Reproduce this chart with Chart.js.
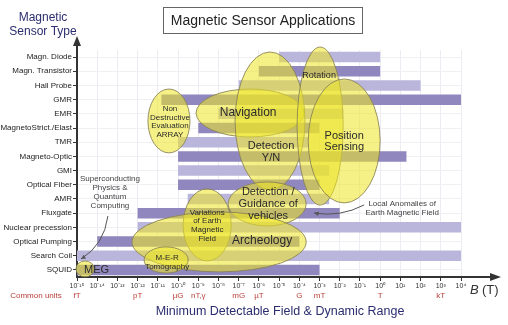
<!DOCTYPE html>
<html>
<head>
<meta charset="utf-8">
<script src="https://cdn.jsdelivr.net/npm/chart.js@4.4.0/dist/chart.umd.min.js"></script>
<style>
  html, body { margin: 0; padding: 0; background: #fff; }
  #wrap { width: 508px; height: 325px; position: relative; }
</style>
</head>
<body>
<div id="wrap"><canvas id="chart" width="508" height="325"></canvas></div>
<script>
// sensor types, top to bottom
var sensors = ['Magn. Diode', 'Magn. Transistor', 'Hall Probe', 'GMR', 'EMR', 'MagnetoStrict./Elast', 'TMR',
    'Magneto-Optic', 'GMI', 'Optical Fiber', 'AMR', 'Fluxgate', 'Nuclear precession', 'Optical Pumping',
    'Search Coil', 'SQUID'];
// detectable field range (tesla)
var fieldMin = [1e-5, 1e-6, 1e-7, 1.5e-11, 1e-8, 1e-9, 1e-10, 1e-10, 1e-10, 1e-10, 3e-10, 1e-12, 1e-12, 1e-14, 1e-15, 1e-15];
var fieldMax = [1, 1, 100, 1e4, 1.5e-2, 1e-3, 3e-4, 20, 3e-3, 1e-3, 3e-3, 1e-2, 1e4, 1e-4, 1e4, 1e-3];
// decade ticks on the B axis (exponents)
var decadeTicks = [-15, -14, -13, -12, -11, -10, -9, -8, -7, -6, -5, -4, -3, -2, -1, 0, 1, 2, 3, 4];
// common units under the axis
var unitNames = ['fT', 'pT', 'µG', 'nT,γ', 'mG', 'µT', 'G', 'mT', 'T', 'kT'];
var unitDecades = [-15, -12, -10, -9, -7, -6, -4, -3, 0, 3];

// application areas: centre (log10 B, row), radii (decades, rows)
var appText = [['Non', 'Destructive', 'Evaluation', 'ARRAY'], ['Navigation'], ['Detection', 'Y/N'], ['Rotation'],
    ['Position', 'Sensing'], ['Detection /', 'Guidance of', 'vehicles'], ['Variations', 'of Earth', 'Magnetic', 'Field'],
    ['Archeology'], ['M-E-R', 'Tomography'], ['MEG']];
var appX = [-10.45, -6.44, -5.45, -2.97, -1.78, -5.59, -8.56, -7.97, -10.59, -14.6];
var appRow = [4.5, 3.94, 4.5, 4.86, 5.91, 10.35, 11.83, 13.03, 14.3, 14.93];
var appRx = [1.04, 2.67, 1.73, 1.14, 1.78, 1.93, 1.19, 4.31, 1.09, 0.45];
var appRy = [2.25, 1.69, 4.86, 5.57, 4.37, 1.55, 2.54, 2.11, 0.92, 0.56];
var appTextX = [-10.4, -6.53, -5.4, -3.02, -1.78, -5.54, -8.56, -5.84, -10.54, -14.03];
var appTextRow = [4.57, 3.94, 6.69, 1.33, 5.95, 10.35, 11.87, 12.96, 14.47, 15.0];
var appFontSize = [8, 12, 11, 9, 11, 11, 8, 12, 8, 11];

// side notes with arrows
var noteText = [['Superconducting', 'Physics &', 'Quantum', 'Computing'], ['Local Anomalies of', 'Earth Magnetic Field']];
var noteX = [-13.37, 1.09];
var noteRow = [9.54, 10.67];
var arrowFrom = [[-13.47, 11.2], [-0.79, 10.42]];
var arrowCtrl = [[-13.66, 13.24], [-1.98, 11.3]];
var arrowTo = [[-14.8, 14.23], [-3.27, 10.99]];

var FONT = "'Liberation Sans', Arial, sans-serif";
var NAVY = '#2b2d6e';
var UNIT_RED = '#b8413a';

function sup(n) {
    var map = { '-': '\u207B', '0': '\u2070', '1': '\u00B9', '2': '\u00B2', '3': '\u00B3', '4': '\u2074',
        '5': '\u2075', '6': '\u2076', '7': '\u2077', '8': '\u2078', '9': '\u2079' };
    return String(n).split('').map(function(c) { return map[c]; }).join('');
}

function arrowHead(ctx, x, y, ang, size) {
    ctx.beginPath();
    ctx.moveTo(x, y);
    ctx.lineTo(x - size * Math.cos(ang - 0.45), y - size * Math.sin(ang - 0.45));
    ctx.lineTo(x - size * Math.cos(ang + 0.45), y - size * Math.sin(ang + 0.45));
    ctx.closePath();
    ctx.fill();
}

var sketch = {
    id: 'sketch',
    afterDatasetsDraw: function(chart) {
        var ctx = chart.ctx, xs = chart.scales.x, ys = chart.scales.y;
        var px = function(e) { return xs.getPixelForValue(Math.pow(10, e)); };
        var py = function(r) { return ys.getPixelForValue(r); };
        var dec = px(1) - px(0), row = py(1) - py(0);
        ctx.save();
        // ellipses
        appX.forEach(function(e, i) {
            ctx.beginPath();
            ctx.ellipse(px(e), py(appRow[i]), appRx[i] * dec, appRy[i] * row, 0, 0, Math.PI * 2);
            ctx.fillStyle = 'rgba(238, 230, 40, 0.56)';
            ctx.fill();
            ctx.strokeStyle = 'rgba(135, 128, 85, 0.85)';
            ctx.lineWidth = 1;
            ctx.stroke();
        });
        // ellipse labels
        ctx.textAlign = 'center';
        ctx.textBaseline = 'middle';
        appText.forEach(function(lines, i) {
            var fs = appFontSize[i], lh = fs + 0.6;
            ctx.font = fs + 'px ' + FONT;
            ctx.fillStyle = '#2a2a2a';
            var cx = px(appTextX[i]), cy = py(appTextRow[i]) - (lines.length - 1) * lh / 2;
            lines.forEach(function(t, k) { ctx.fillText(t, cx, cy + k * lh); });
        });
        // notes and arrows
        ctx.font = '8px ' + FONT;
        ctx.fillStyle = '#444';
        noteText.forEach(function(lines, i) {
            var cx = px(noteX[i]), cy = py(noteRow[i]) - (lines.length - 1) * 9 / 2;
            lines.forEach(function(t, k) { ctx.fillText(t, cx, cy + k * 9); });
            var a = arrowFrom[i], c = arrowCtrl[i], b = arrowTo[i];
            var x0 = px(a[0]), y0 = py(a[1]), x1 = px(c[0]), y1 = py(c[1]), x2 = px(b[0]), y2 = py(b[1]);
            ctx.beginPath();
            ctx.moveTo(x0, y0);
            ctx.quadraticCurveTo(x1, y1, x2, y2);
            ctx.strokeStyle = '#555';
            ctx.lineWidth = 1;
            ctx.stroke();
            ctx.fillStyle = '#555';
            arrowHead(ctx, x2, y2, Math.atan2(y2 - y1, x2 - x1), 5);
            ctx.fillStyle = '#444';
        });
        ctx.restore();
    },
    afterDraw: function(chart) {
        var ctx = chart.ctx, xs = chart.scales.x, area = chart.chartArea;
        ctx.save();
        // axis arrows
        ctx.strokeStyle = '#333';
        ctx.fillStyle = '#333';
        ctx.lineWidth = 2;
        ctx.beginPath();
        ctx.moveTo(area.left, area.top);
        ctx.lineTo(area.left, 44);
        ctx.moveTo(area.right, area.bottom);
        ctx.lineTo(492, area.bottom);
        ctx.stroke();
        ctx.beginPath();
        ctx.moveTo(area.left, 36);
        ctx.lineTo(area.left - 4, 46);
        ctx.lineTo(area.left + 4, 46);
        ctx.closePath();
        ctx.fill();
        ctx.beginPath();
        ctx.moveTo(501, area.bottom);
        ctx.lineTo(490, area.bottom - 4);
        ctx.lineTo(490, area.bottom + 4);
        ctx.closePath();
        ctx.fill();

        // title box
        ctx.strokeStyle = '#666';
        ctx.lineWidth = 1;
        ctx.strokeRect(163.5, 7.5, 199, 26);
        ctx.font = '14px ' + FONT;
        ctx.fillStyle = '#222';
        ctx.textAlign = 'center';
        ctx.textBaseline = 'middle';
        ctx.fillText('Magnetic Sensor Applications', 263, 21);

        // y axis title
        ctx.font = '12px ' + FONT;
        ctx.fillStyle = NAVY;
        ctx.fillText('Magnetic', 43, 18);
        ctx.fillText('Sensor Type', 43, 32);

        // x axis title
        ctx.font = '12.5px ' + FONT;
        ctx.fillText('Minimum Detectable Field & Dynamic Range', 280, 312);

        // B (T)
        ctx.fillStyle = '#333';
        ctx.textAlign = 'left';
        ctx.font = 'italic 13px ' + FONT;
        ctx.fillText('B', 470, 290);
        ctx.font = '13px ' + FONT;
        ctx.fillText('(T)', 482, 290);

        // common units
        ctx.fillStyle = UNIT_RED;
        ctx.font = '8px ' + FONT;
        ctx.textAlign = 'center';
        ctx.fillText('Common units', 36, 296);
        unitNames.forEach(function(u, i) {
            ctx.fillText(u, xs.getPixelForValue(Math.pow(10, unitDecades[i])), 296);
        });
        ctx.restore();
    }
};

Chart.defaults.font.family = FONT;

var ctx = document.getElementById('chart').getContext('2d');
var chart = new Chart(ctx, {
    type: 'bar',
    data: {
        labels: sensors,
        datasets: [{
            data: sensors.map(function(s, i) { return [fieldMin[i], fieldMax[i]]; }),
            backgroundColor: sensors.map(function(s, i) { return i % 2 ? '#8f87bd' : '#bab5db'; }),
            borderWidth: 0,
            barPercentage: 0.74,
            categoryPercentage: 1
        }]
    },
    options: {
        indexAxis: 'y',
        responsive: false,
        animation: false,
        layout: { padding: { left: 0, top: 50, right: 47, bottom: 0 } },
        plugins: { legend: { display: false }, tooltip: { enabled: false } },
        scales: {
            x: {
                type: 'logarithmic',
                min: 1e-15,
                max: 1e4,
                afterBuildTicks: function(scale) {
                    scale.ticks = decadeTicks.map(function(e) { return { value: Math.pow(10, e) }; });
                },
                afterFit: function(scale) { scale.height = 48; },
                ticks: {
                    autoSkip: false,
                    maxRotation: 0,
                    padding: 1,
                    color: '#333',
                    font: { size: 7 },
                    callback: function(v) { return '10' + sup(Math.round(Math.log10(v))); }
                },
                grid: { color: '#ececf2', tickColor: '#333', tickLength: 4 },
                border: { color: '#333', width: 2 }
            },
            y: {
                afterFit: function(scale) { scale.width = 77; },
                ticks: { autoSkip: false, padding: 1, color: '#222', font: { size: 8 } },
                grid: { color: '#efeff4', tickColor: '#333', tickLength: 4, offset: false },
                border: { color: '#333', width: 2 }
            }
        }
    },
    plugins: [sketch]
});
</script>
</body>
</html>
